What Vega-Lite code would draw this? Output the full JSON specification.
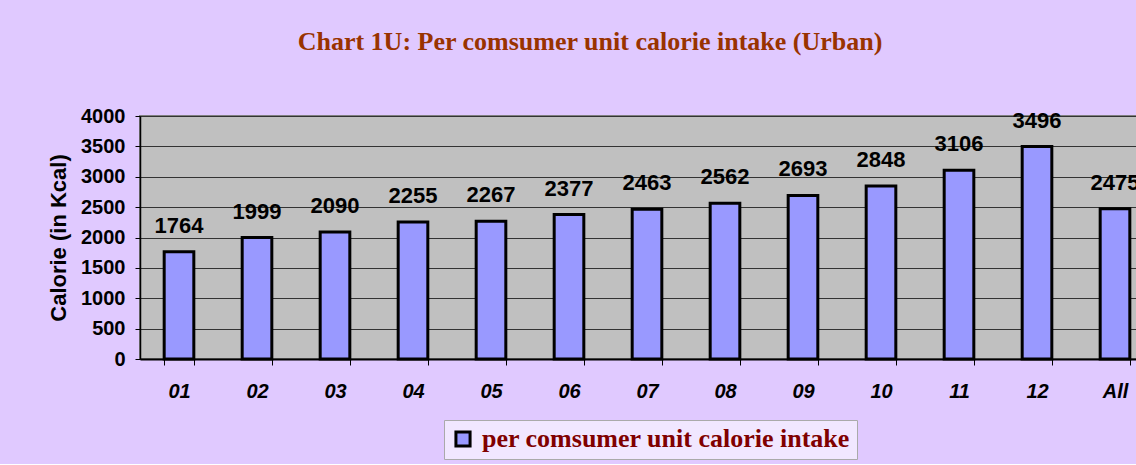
{
  "$schema": "https://vega.github.io/schema/vega-lite/v6.json",
  "background": "#E0C9FF",
  "padding": {"left": 47, "top": 29, "right": 0, "bottom": 4},
  "width": 1014,
  "height": 243,
  "title": {
    "text": "Chart 1U: Per comsumer unit calorie intake (Urban)",
    "font": "Liberation Serif",
    "fontSize": 26,
    "fontWeight": "bold",
    "color": "#993300",
    "dx": -57,
    "offset": 51
  },
  "data": {
    "values": [
      {"group": "01", "calories": 1764, "series": "per comsumer unit calorie intake"},
      {"group": "02", "calories": 1999, "series": "per comsumer unit calorie intake"},
      {"group": "03", "calories": 2090, "series": "per comsumer unit calorie intake"},
      {"group": "04", "calories": 2255, "series": "per comsumer unit calorie intake"},
      {"group": "05", "calories": 2267, "series": "per comsumer unit calorie intake"},
      {"group": "06", "calories": 2377, "series": "per comsumer unit calorie intake"},
      {"group": "07", "calories": 2463, "series": "per comsumer unit calorie intake"},
      {"group": "08", "calories": 2562, "series": "per comsumer unit calorie intake"},
      {"group": "09", "calories": 2693, "series": "per comsumer unit calorie intake"},
      {"group": "10", "calories": 2848, "series": "per comsumer unit calorie intake"},
      {"group": "11", "calories": 3106, "series": "per comsumer unit calorie intake"},
      {"group": "12", "calories": 3496, "series": "per comsumer unit calorie intake"},
      {"group": "All", "calories": 2475, "series": "per comsumer unit calorie intake"}
    ]
  },
  "encoding": {
    "x": {
      "field": "group",
      "type": "nominal",
      "sort": null,
      "scale": {"paddingInner": 0.62, "paddingOuter": 0.31},
      "axis": {
        "title": null,
        "labelAngle": 0,
        "labelFont": "Liberation Sans",
        "labelFontSize": 20,
        "labelFontWeight": "bold",
        "labelFontStyle": "italic",
        "labelColor": "#000000",
        "labelPadding": 16,
        "tickBand": "extent",
        "tickSize": 6,
        "tickColor": "#000000",
        "domainColor": "#000000",
        "domainWidth": 2,
        "grid": false
      }
    },
    "y": {
      "field": "calories",
      "type": "quantitative",
      "scale": {"domain": [0, 4000], "nice": false},
      "axis": {
        "title": "Calorie (in Kcal)",
        "titleFont": "Liberation Sans",
        "titleFontSize": 22,
        "titleFontWeight": "bold",
        "titleColor": "#000000",
        "titlePadding": 10,
        "values": [0, 500, 1000, 1500, 2000, 2500, 3000, 3500, 4000],
        "format": "d",
        "labelFont": "Liberation Sans",
        "labelFontSize": 20,
        "labelFontWeight": "bold",
        "labelColor": "#000000",
        "labelPadding": 10,
        "tickSize": 5,
        "tickColor": "#000000",
        "domainColor": "#000000",
        "domainWidth": 1.5,
        "grid": true,
        "gridColor": "#333333",
        "gridWidth": 1
      }
    }
  },
  "layer": [
    {
      "mark": {"type": "bar", "stroke": "#000000", "strokeWidth": 3},
      "encoding": {
        "color": {
          "field": "series",
          "type": "nominal",
          "scale": {"range": ["#9999FF"]},
          "legend": {
            "title": null,
            "orient": "none",
            "legendX": 304,
            "legendY": 304,
            "labelFont": "Liberation Serif",
            "labelFontSize": 26,
            "labelFontWeight": "bold",
            "labelColor": "#800000",
            "labelLimit": 600,
            "labelOffset": 6,
            "symbolType": "square",
            "symbolSize": 200,
            "symbolStrokeColor": "#000000",
            "symbolStrokeWidth": 3,
            "symbolOpacity": 1,
            "strokeColor": "#AAAAAA",
            "fillColor": "rgba(255,255,255,0.55)",
            "padding": 6
          }
        }
      }
    },
    {
      "mark": {
        "type": "text",
        "font": "Liberation Sans",
        "fontSize": 22,
        "fontWeight": "bold",
        "baseline": "alphabetic",
        "dy": -19,
        "color": "#000000"
      },
      "encoding": {
        "text": {"field": "calories", "type": "quantitative"}
      }
    }
  ],
  "config": {
    "view": {"fill": "#C0C0C0", "stroke": "#808080", "strokeWidth": 2}
  }
}
